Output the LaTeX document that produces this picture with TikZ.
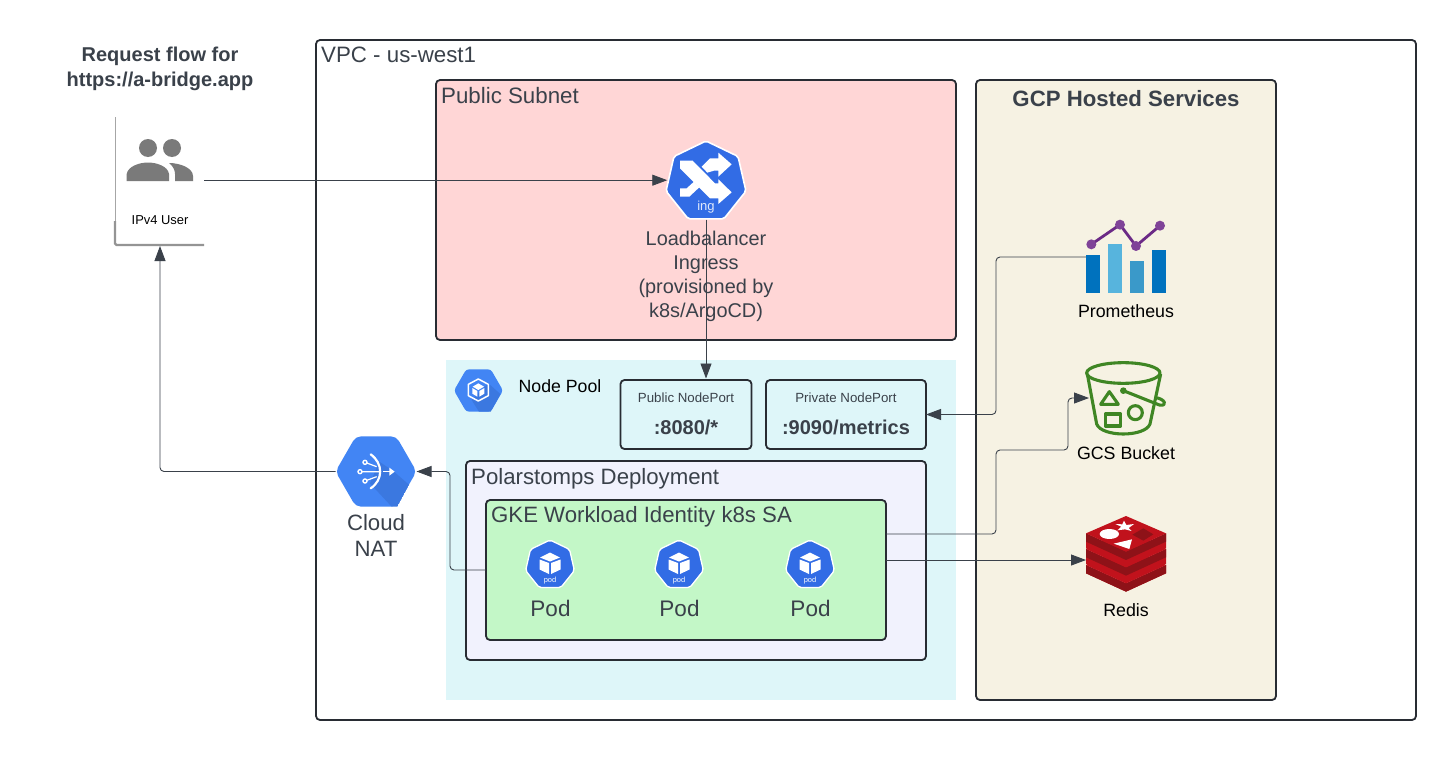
\documentclass[tikz,border=0pt]{standalone}
\usepackage{fontspec}
\setmainfont{Liberation Sans}
\usetikzlibrary{arrows.meta,shapes.geometric,calc}
\definecolor{ink}{HTML}{3A414A}
\definecolor{edgeink}{HTML}{282C33}
\definecolor{kblue}{HTML}{326CE5}
\definecolor{gblue}{HTML}{4285F4}
\definecolor{gshade}{HTML}{3B78E0}
\definecolor{gcsgreen}{HTML}{3F8624}
\definecolor{redistop}{HTML}{C1121C}
\definecolor{redisside}{HTML}{8E1218}
\definecolor{barA}{HTML}{0072BE}
\definecolor{barB}{HTML}{57B4DD}
\definecolor{barC}{HTML}{3A99C9}
\definecolor{promline}{HTML}{6B2A86}
\definecolor{promdot}{HTML}{7F4398}
\definecolor{subnetfill}{HTML}{FFD6D6}
\definecolor{gcpfill}{HTML}{F6F2E3}
\definecolor{poolfill}{HTML}{DEF6F9}
\definecolor{deployfill}{HTML}{F1F2FD}
\definecolor{gkefill}{HTML}{C3F7C7}
\newcommand{\fs}[1]{\fontsize{#1}{#1}\selectfont}
\tikzset{
  x=1pt,y=-1pt,
  boxed/.style={draw=edgeink,line width=1.8pt,rounded corners=4pt,anchor=north west,inner sep=0pt,outer sep=0pt},
  flat/.style={anchor=north west,inner sep=0pt,outer sep=0pt},
  lbl/.style={text=ink,inner sep=0pt,align=center},
  lblb/.style={text=ink,inner sep=0pt,anchor=base},
  lbll/.style={text=ink,inner sep=0pt,anchor=base west},
  blk/.style={text=black,inner sep=0pt,align=center},
  conn/.style={draw=ink,line width=0.9pt,rounded corners=4pt,-{Triangle[length=15pt,width=11pt]}},
  kube/.style={regular polygon,regular polygon sides=7,fill=kblue,draw=white,line width=1.3pt,rounded corners=2pt,inner sep=0pt},
  ghex/.style={regular polygon,regular polygon sides=6,fill=gblue,rounded corners=5pt,inner sep=0pt,outer sep=0pt},
}
\newcommand{\mypod}[3]{%
  \node[kube,minimum size=50pt] (#1) at (#2,#3) {};
  \begin{scope}[shift={(#2,#3)}]
    \fill[white] (0,-12.5) -- (10,-7.5) -- (0,-3.5) -- (-10,-7.5) -- cycle;
    \fill[white] (-10.5,-5.5) -- (-1,-2) -- (-1,9) -- (-10.5,4.5) -- cycle;
    \fill[white] (10.5,-5.5) -- (1,-2) -- (1,9) -- (10.5,4.5) -- cycle;
    \node[text=white,inner sep=0pt] (#1t) at (0,16) {\fs{7.5}pod};
  \end{scope}
}
\begin{document}
\begin{tikzpicture}
\useasboundingbox[fill=white] (0,0) rectangle (1456,760);

% containers
\node[boxed,fill=white,minimum width=1100pt,minimum height=680pt] (vpc) at (316,40) {};
\node[boxed,fill=subnetfill,minimum width=520pt,minimum height=260pt] (pubnet) at (436,80) {};
\node[boxed,fill=gcpfill,minimum width=300pt,minimum height=620pt] (gcp) at (976,80) {};
\node[flat,fill=poolfill,minimum width=510pt,minimum height=340pt] (pool) at (446,360) {};
\node[boxed,fill=poolfill,minimum width=131pt,minimum height=69pt] (pubport) at (620.5,380) {};
\node[boxed,fill=poolfill,minimum width=160pt,minimum height=69pt] (privport) at (766,380) {};
\node[boxed,fill=deployfill,minimum width=460pt,minimum height=199pt] (deploy) at (466,461) {};
\node[boxed,fill=gkefill,minimum width=400pt,minimum height=140pt] (gke) at (486,500) {};

% user card
\node[flat,fill=white,minimum width=89pt,minimum height=128pt] (user) at (115,117) {};
\draw[draw=black!35,line width=1pt] (user.north west) -- (user.south west);
\draw[draw=black!42,line width=2.4pt,rounded corners=1.5pt] (user.west) ++(0,40) -- (user.south west) -- (user.south east);
\fill[black!52] (148,148) circle (9pt) (172,148) circle (9pt);
\fill[black!52] (126.7,181) -- (126.7,174) .. controls (128,166) and (140,162.5) .. (148,162.5) .. controls (156,162.5) and (168,166) .. (169,174) -- (169,181) -- cycle;
\fill[black!52] (175,181) -- (175,174) .. controls (175,170) and (173,166) .. (169,163) .. controls (180,163) and (193,168) .. (193,176) -- (193,181) -- cycle;

% anchors of connectors
\coordinate (gkegcs) at (gke.east |- 0,534);
\coordinate (gkeredis) at (gke.east |- 0,560);
\coordinate (gkenat) at (gke.west |- 0,570);

% icon anchors (service nodes)
\node[inner sep=0pt,outer sep=0pt,minimum width=80pt,minimum height=60pt,anchor=north west] (prom) at (1086,221) {};
\node[inner sep=0pt,outer sep=0pt,minimum width=80pt,minimum height=76pt,anchor=north west] (gcs) at (1086,361) {};
\node[inner sep=0pt,outer sep=0pt,minimum width=80pt,minimum height=80pt,anchor=north west] (redis) at (1086,520) {};
\coordinate (prompt) at (prom.west |- 0,257);
\coordinate (gcspt) at (1089,398);
\coordinate (redispt) at (redis.west |- 0,560);
\coordinate (userpt) at ([yshift=0.8pt]user.east);

% icons with names
\node[kube,minimum size=82pt,line width=1.6pt] (lb) at (706,182) {};
\node[ghex,minimum size=81pt] (nat) at (376,471.5) {};
\node[ghex,minimum size=49pt,rounded corners=3pt] (poolicon) at (478.5,390.5) {};

% connectors
\draw[conn] (userpt) -- (userpt -| lb.west);
\draw[conn] (lb.south) -- ([yshift=1.5pt]lb.south |- pubport.north);
\draw[conn] (prompt) -- (996,257) -- (996,414.5) -- (privport.east);
\draw[conn] (gkegcs) -- (996,534) -- (996,450) -- (1068,450) -- (1068,398) -- (gcspt);
\draw[conn] (gkeredis) -- (redispt);
\draw[conn] (gkenat) -- (450,570) -- (450,471.5) -- (nat.east);
\draw[conn] (nat.west) -- (160,471.5) -- (160,246);

% LB glyph
\begin{scope}[shift={(620,130)},x=0.3333pt,y=-0.3333pt]
  \fill[white] (180,92) -- (218,92) -- (285,160) -- (295,160) -- (295,148) -- (335,187) -- (295,222) -- (295,205) -- (270,205) -- (180,115) -- cycle;
  \fill[white] (245,110) -- (270,85) -- (295,85) -- (295,68) -- (335,103) -- (295,140) -- (295,122) -- (282,122) -- (262,128) -- cycle;
  \fill[white] (180,175) -- (200,175) -- (222,155) -- (238,172) -- (208,200) -- (180,200) -- cycle;
\end{scope}
\node[text=white!85!kblue,inner sep=0pt] (ingt) at (706,207) {\fs{13}ing};

% NAT glyph
\begin{scope}[shift={(320,425)},x=0.3333pt,y=-0.3333pt]
  \begin{scope}
    \clip (48,140) -- (105,33) -- (232,33) -- (288,140) -- (232,245) -- (105,245) -- cycle;
    \fill[gshade] (178,110) -- (222,140) -- (268,180) -- (232,245) -- (215,245) -- (150,175) -- cycle;
  \end{scope}
  \draw[white,line width=1.2pt] (135,112) -- (170,125) (120,140) -- (180,140) (135,168) -- (170,155);
  \draw[white,line width=1.4pt,fill=gblue] (135,112) circle (6) (120,140) circle (6) (135,168) circle (6);
  \draw[white,line width=2.2pt,line cap=round] (152,88) .. controls (190,115) and (190,165) .. (152,190);
  \draw[white,line width=1.3pt] (190,140) -- (212,140);
  \fill[white] (208,128) -- (224,140) -- (208,152) -- cycle;
\end{scope}

% node pool glyph
\begin{scope}[shift={(440,355)},x=0.3333pt,y=-0.3333pt]
  \begin{scope}
    \clip (42,105) -- (78,40) -- (152,40) -- (188,105) -- (152,170) -- (78,170) -- cycle;
    \fill[gshade] (145,85) -- (190,125) -- (160,175) -- (120,175) -- (95,135) -- cycle;
  \end{scope}
  \draw[white,line width=1.5pt,line join=round] (115,72) -- (145,88) -- (145,122) -- (115,138) -- (85,122) -- (85,88) -- cycle;
  \fill[white] (115,85) -- (132,95) -- (115,105) -- (98,95) -- cycle;
  \fill[white] (97,99) -- (112,108) -- (112,125) -- (97,116) -- cycle;
  \fill[white] (133,99) -- (118,108) -- (118,125) -- (133,116) -- cycle;
\end{scope}

% pods
\mypod{podA}{550}{565}
\mypod{podB}{679}{565}
\mypod{podC}{810}{565}

% Prometheus
\begin{scope}[shift={(1060,210)},x=0.3333pt,y=-0.3333pt]
  \fill[barA] (78,135) rectangle (120,250);
  \fill[barB] (144,103) rectangle (186,250);
  \fill[barC] (210,153) rectangle (252,250);
  \fill[barA] (276,120) rectangle (318,250);
  \draw[promline,line width=2.8pt,line join=round] (94,103) -- (180,44) -- (228,108) -- (300,47);
  \fill[promdot] (94,103) circle (15) (180,44) circle (15) (228,108) circle (15) (300,47) circle (15);
\end{scope}

% GCS bucket
\begin{scope}[shift={(1060,350)},x=0.3333pt,y=-0.3333pt,draw=gcsgreen,line width=3.1pt,line join=round]
  \draw (190,69) ellipse (110 and 31);
  \draw (82,72) -- (110,222) .. controls (125,262) and (255,262) .. (270,222) -- (302,72);
  \draw (122,163) -- (175,163) -- (148,125) -- cycle;
  \draw (136,192) rectangle (182,228);
  \draw (226,188) circle (21);
  \fill[gcsgreen] (190,122) circle (10);
  \draw (190,122) -- (298,165) .. controls (325,170) and (315,145) .. (285,143);
\end{scope}

% Redis
\begin{scope}[shift={(1060,500)},x=0.3333pt,y=-0.3333pt]
  \foreach \dy/\band in {95/125,47/145,0/145}{
    \fill[redistop] (78,{100+\dy}) -- (198,{155+\dy}) -- (318,{100+\dy}) -- (318,{\band+\dy}) -- (198,{\band+55+\dy}) -- (78,{\band+\dy}) -- cycle;
    \fill[redisside] (78,{100+\dy}) -- (198,{155+\dy}) -- (318,{100+\dy}) -- (318,{125+\dy}) -- (198,{180+\dy}) -- (78,{125+\dy}) -- cycle;
    \fill[redistop] (198,{48+\dy}) -- (318,{100+\dy}) -- (198,{155+\dy}) -- (78,{100+\dy}) -- cycle;
  }
  \fill[white] (192,62) -- (199,75) -- (222,72) -- (206,84) -- (215,93) -- (195,88) -- (172,91) -- (184,80) -- (166,72) -- (187,73) -- cycle;
  \fill[white] (148,102) ellipse (29 and 15);
  \fill[white] (216,118) -- (208,147) -- (161,131) -- cycle;
  \fill[redisside] (217,104) -- (250,85) -- (280,103) -- (250,122) -- cycle;
\end{scope}

% labels
\node[lbl,font=\bfseries] (titleA) at (160,56.5) {\fs{20}Request flow for};
\node[lbl,font=\bfseries] (titleB) at (160,81) {\fs{20}https://a-bridge.app};
\node[blk] (userlbl) at (160,220.5) {\fs{12.9}IPv4 User};
\node[lbll] (vpclbl) at (321,63) {\fs{22.3}VPC - us-west1};
\node[lbll] (publbl) at (441,103) {\fs{22.3}Public Subnet};
\node[lblb,font=\bfseries] (gcplbl) at (1126,106) {\fs{22.2}GCP Hosted Services};
\node[lblb] (lbA) at (706,245.5) {\fs{19.9}Loadbalancer};
\node[lblb] (lbB) at (706,269.5) {\fs{19.9}Ingress};
\node[lblb] (lbC) at (706,293.5) {\fs{19.9}(provisioned by};
\node[lblb] (lbD) at (706,317.5) {\fs{19.9}k8s/ArgoCD)};
\node[blk] (poollbl) at (560,386) {\fs{17.7}Node Pool};
\node[lbl] (pubA) at (686,398) {\fs{13.3}Public NodePort};
\node[lbl,font=\bfseries] (pubB) at (686,427) {\fs{20}:8080/*};
\node[lbl] (privA) at (846,398) {\fs{13.3}Private NodePort};
\node[lbl,font=\bfseries] (privB) at (846,427) {\fs{20}:9090/metrics};
\node[lbll] (deplbl) at (471,484.5) {\fs{22.2}Polarstomps Deployment};
\node[lbll] (gkelbl) at (491,522.5) {\fs{22.2}GKE Workload Identity k8s SA};
\node[lblb] (natA) at (376,530.5) {\fs{22.2}Cloud};
\node[lblb] (natB) at (376,556.5) {\fs{22.2}NAT};
\node[lblb] (podlA) at (550.5,616) {\fs{22.5}Pod};
\node[lblb] (podlB) at (679.5,616) {\fs{22.5}Pod};
\node[lblb] (podlC) at (810.5,616) {\fs{22.5}Pod};
\node[blk] (promlbl) at (1126,311) {\fs{17.8}Prometheus};
\node[blk] (gcslbl) at (1126,453) {\fs{17.8}GCS Bucket};
\node[blk] (redislbl) at (1126,610) {\fs{17.8}Redis};
\end{tikzpicture}
\end{document}
